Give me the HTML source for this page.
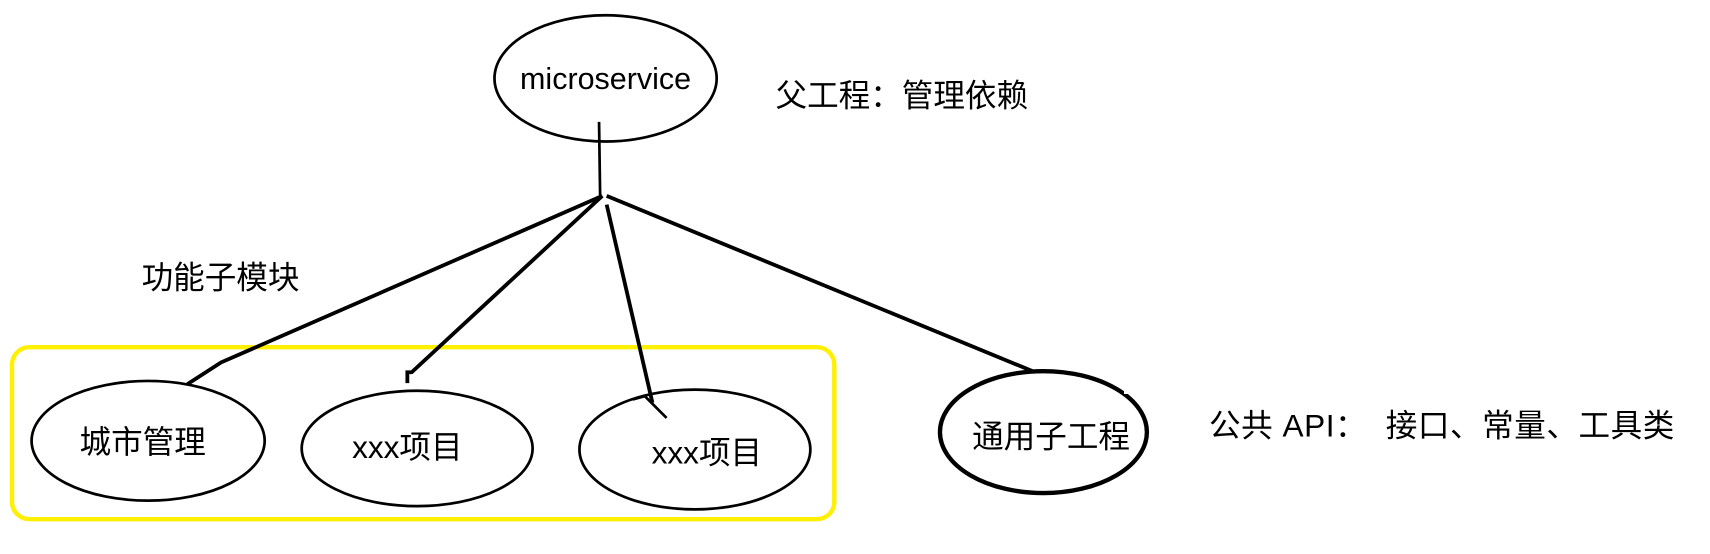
<!DOCTYPE html>
<html><head><meta charset="utf-8"><style>
html,body{margin:0;padding:0;background:#fff;width:1710px;height:554px;overflow:hidden}
svg{display:block}
text{font-family:"Liberation Sans","Noto Sans CJK SC",sans-serif;fill:#000}
</style></head><body>
<svg width="1710" height="554" viewBox="0 0 1570 509" preserveAspectRatio="none">
<rect x="11" y="319" width="755" height="158" rx="16" fill="none" stroke="#ffef00" stroke-width="4"/>
<ellipse cx="556" cy="72" rx="102" ry="58" fill="none" stroke="#000" stroke-width="2.5"/>
<text x="556" y="82" font-size="28" text-anchor="middle">microservice</text>
<text x="712" y="98" font-size="29">父工程：管理依赖</text>
<line x1="550" y1="112" x2="551" y2="180" stroke="#000" stroke-width="2.5"/>
<polyline points="553,180 203,333 172,353" fill="none" stroke="#000" stroke-width="3.5"/>
<polyline points="553,180 378,342 374,342 374,352" fill="none" stroke="#000" stroke-width="3.5"/>
<line x1="557" y1="188" x2="599" y2="370" stroke="#000" stroke-width="3.5"/>
<polyline points="581,367 592,364 612,384" fill="none" stroke="#000" stroke-width="2.5"/>
<line x1="557" y1="180" x2="948" y2="341" stroke="#000" stroke-width="3.5"/>
<text x="130" y="265" font-size="29">功能子模块</text>
<ellipse cx="136" cy="405" rx="107" ry="55" fill="none" stroke="#000" stroke-width="2.5"/>
<text x="131" y="416" font-size="29" text-anchor="middle">城市管理</text>
<ellipse cx="383" cy="412" rx="106" ry="53" fill="none" stroke="#000" stroke-width="2.5"/>
<text x="374" y="421" font-size="29" text-anchor="middle">xxx项目</text>
<ellipse cx="638" cy="413" rx="106" ry="55" fill="none" stroke="#000" stroke-width="2.5"/>
<text x="649" y="426" font-size="29" text-anchor="middle">xxx项目</text>
<ellipse cx="958" cy="397" rx="95" ry="56" fill="none" stroke="#000" stroke-width="4"/>
<rect x="1032" y="340" width="14" height="22" fill="#fff"/>
<text x="965" y="411" font-size="29" text-anchor="middle">通用子工程</text>
<text x="1110" y="401" font-size="29" xml:space="preserve" letter-spacing="0.5">公共 API：  接口、常量、工具类</text>
</svg>
</body></html>
